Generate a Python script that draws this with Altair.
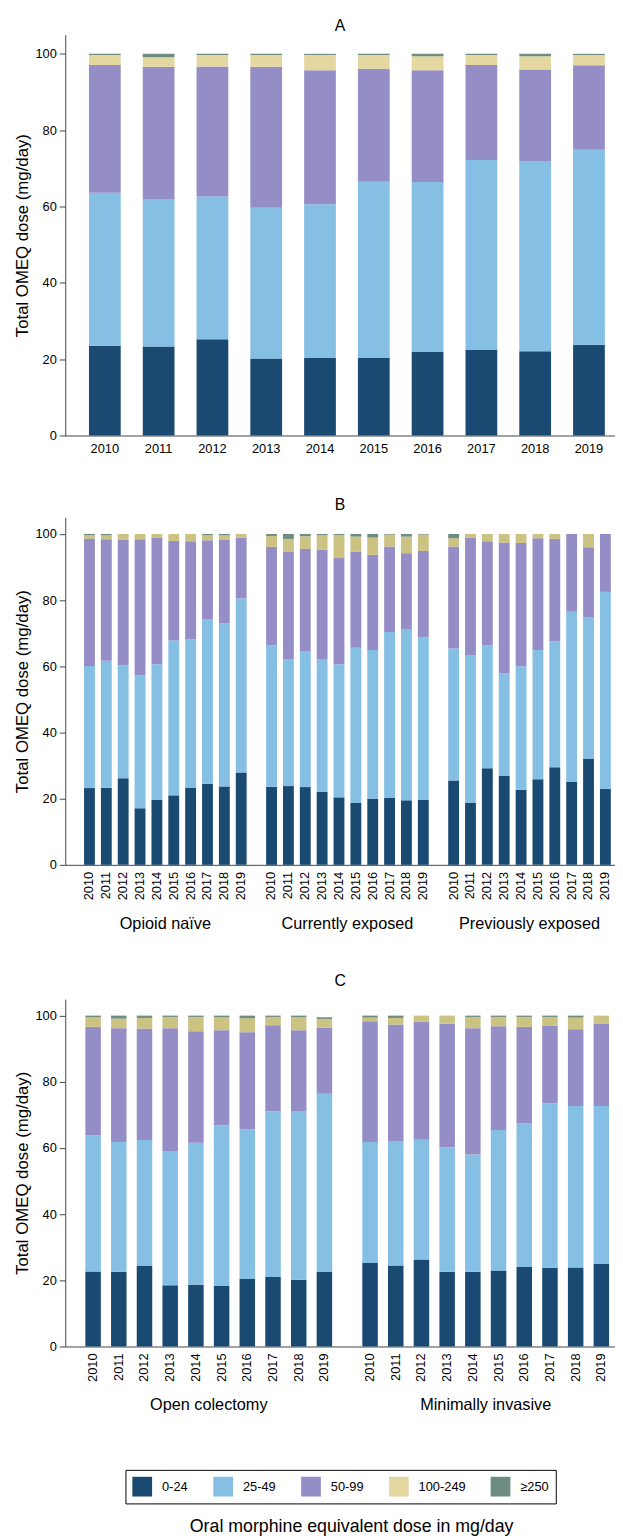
import altair as alt
import pandas as pd

FONT = "Liberation Sans"

years = [2010, 2011, 2012, 2013, 2014, 2015, 2016, 2017, 2018, 2019]
categories = ["0-24", "25-49", "50-99", "100-249", "≥250"]
colors = ["#1a4a72", "#85bfe4", "#958dc5", "#e4d8a0", "#6c8d7f"]
# the 100-249 band is drawn in a darker khaki in panels B and C
tan_bc_key = "100-249 (B, C)"
tan_bc_color = "#ccc282"

groups_b = ["Opioid naïve", "Currently exposed", "Previously exposed"]
groups_c = ["Open colectomy", "Minimally invasive"]

# each list: [0-24, 25-49, 50-99, 100-249, >=250] shares (%) for 2010..2019
overall = [
    [23.5, 23.3, 25.2, 20.2, 20.3, 20.3, 21.9, 22.4, 22.1, 23.8],
    [40.1, 38.7, 37.4, 39.5, 40.3, 46.2, 44.5, 49.8, 49.8, 51.1],
    [33.5, 34.6, 34.1, 36.9, 35.1, 29.6, 29.3, 24.9, 24.0, 22.1],
    [2.6, 2.5, 3.0, 3.1, 4.0, 3.6, 3.7, 2.6, 3.5, 2.7],
    [0.3, 0.9, 0.3, 0.3, 0.3, 0.3, 0.6, 0.3, 0.6, 0.3],
]
opioid_naive = [
    [23.2, 23.3, 26.2, 17.1, 19.6, 21.0, 23.2, 24.5, 23.7, 27.9],
    [36.9, 38.4, 34.1, 40.1, 41.0, 46.8, 44.9, 49.6, 49.2, 52.6],
    [38.5, 36.7, 37.9, 41.2, 38.3, 30.1, 29.7, 24.0, 25.3, 18.4],
    [1.0, 1.2, 1.8, 1.6, 1.1, 2.1, 2.2, 1.5, 1.4, 1.1],
    [0.4, 0.4, 0.0, 0.0, 0.0, 0.0, 0.0, 0.4, 0.4, 0.0],
]
currently_exposed = [
    [23.6, 23.8, 23.5, 22.0, 20.4, 18.7, 20.0, 20.2, 19.5, 19.7],
    [42.8, 38.4, 41.0, 40.2, 40.2, 46.9, 44.9, 50.2, 51.6, 49.1],
    [29.7, 32.5, 31.0, 33.1, 32.1, 29.0, 28.8, 25.8, 23.1, 26.1],
    [3.3, 3.8, 3.8, 4.4, 7.0, 4.6, 5.2, 3.6, 5.0, 4.9],
    [0.6, 1.5, 0.7, 0.3, 0.3, 0.8, 1.1, 0.2, 0.8, 0.2],
]
previously_exposed = [
    [25.5, 18.8, 29.2, 26.9, 22.7, 25.9, 29.5, 25.0, 32.0, 23.0],
    [39.9, 44.5, 37.1, 30.9, 37.3, 39.0, 38.1, 51.5, 42.7, 59.5],
    [30.8, 35.6, 31.5, 39.6, 37.3, 33.8, 30.9, 23.5, 21.3, 17.5],
    [2.5, 1.1, 2.2, 2.6, 2.7, 1.3, 1.5, 0.0, 4.0, 0.0],
    [1.3, 0.0, 0.0, 0.0, 0.0, 0.0, 0.0, 0.0, 0.0, 0.0],
]
open_colectomy = [
    [22.7, 22.6, 24.3, 18.5, 18.7, 18.3, 20.4, 21.0, 20.2, 22.5],
    [41.1, 39.2, 38.1, 40.6, 42.9, 48.6, 45.2, 50.1, 51.0, 53.9],
    [32.8, 34.4, 33.7, 37.1, 33.7, 28.7, 29.4, 26.0, 24.4, 20.0],
    [2.9, 2.9, 3.2, 3.4, 4.3, 3.9, 4.2, 2.5, 3.9, 2.6],
    [0.5, 0.9, 0.7, 0.4, 0.4, 0.5, 0.8, 0.4, 0.5, 0.5],
]
minimally_invasive = [
    [25.2, 24.5, 26.3, 22.6, 22.6, 23.0, 24.0, 23.8, 23.9, 24.9],
    [36.6, 37.6, 36.2, 37.6, 35.4, 42.4, 43.4, 49.7, 48.8, 47.8],
    [36.5, 35.2, 35.6, 37.3, 38.2, 31.4, 29.2, 23.5, 23.2, 24.9],
    [1.1, 2.0, 1.9, 2.5, 3.4, 2.8, 3.0, 2.6, 3.5, 2.4],
    [0.6, 0.7, 0.0, 0.0, 0.4, 0.4, 0.4, 0.4, 0.6, 0.0],
]


def rows(group, values, dark_tan):
    out = []
    for ci, cat in enumerate(categories):
        key = tan_bc_key if (dark_tan and cat == "100-249") else cat
        for yi, yr in enumerate(years):
            out.append({"group": group, "year": str(yr), "cat": key,
                        "idx": ci, "value": values[ci][yi]})
    return out


df_a = pd.DataFrame(rows("All", overall, False))
df_b = pd.DataFrame(rows(groups_b[0], opioid_naive, True)
                    + rows(groups_b[1], currently_exposed, True)
                    + rows(groups_b[2], previously_exposed, True))
df_c = pd.DataFrame(rows(groups_c[0], open_colectomy, True)
                    + rows(groups_c[1], minimally_invasive, True))

W = 557
HA = 406
HB = 352
HC = 352

color_enc = alt.Color(
    "cat:N",
    scale=alt.Scale(domain=categories + [tan_bc_key], range=colors + [tan_bc_color]),
    legend=alt.Legend(
        orient="none", legendX=61, legendY=1454, direction="horizontal",
        title=None, values=categories, symbolType="square", symbolSize=400,
        symbolStrokeWidth=0, symbolOpacity=1, labelFontSize=13, labelFont=FONT,
        labelColor="black", labelOffset=10, columnPadding=25, padding=7,
        strokeColor="black",
    ),
)

y_axis = alt.Axis(
    values=[0, 20, 40, 60, 80, 100], title="Total OMEQ dose (mg/day)",
    grid=False, tickSize=6, labelPadding=3, titlePadding=4,
    labelFontSize=13, titleFontSize=17, titleFontWeight="normal",
    domainColor="#444", tickColor="#444", labelColor="black", titleColor="black",
)


def y_enc():
    return alt.Y("value:Q", stack="zero", scale=alt.Scale(domain=[0, 105], nice=False),
                 axis=y_axis)


order_enc = alt.Order("idx:Q", sort="ascending")


def panel_title(t, offset):
    return alt.TitleParams(t, fontSize=16, fontWeight="normal", offset=offset,
                           anchor="middle", font=FONT, color="black")


chart_a = alt.Chart(df_a).mark_bar().encode(
    x=alt.X("year:N", scale=alt.Scale(paddingInner=0.41, paddingOuter=0.315, align=0.7),
            axis=alt.Axis(title=None, labelAngle=0, ticks=False, tickSize=0,
                          labelPadding=7, labelFontSize=13, labelColor="black",
                          domainColor="#444")),
    y=y_enc(),
    color=color_enc,
    order=order_enc,
).properties(width=W, height=HA, title=panel_title("A", 1))


def grouped_panel(df, groups, h, title, toff, outer, align, inner_pad, band_pad):
    xs = alt.X("group:N", sort=groups,
               scale=alt.Scale(paddingInner=band_pad, paddingOuter=outer, align=align),
               axis=alt.Axis(title=None, labelAngle=0, ticks=False, tickSize=0,
                             labelPadding=51, labelFontSize=16.5, labelColor="black",
                             domainColor="#444"))
    xo = alt.XOffset("year:N", scale=alt.Scale(paddingInner=inner_pad,
                                                 paddingOuter=inner_pad / 2))
    bars = alt.Chart(df).mark_bar().encode(
        x=xs, xOffset=xo, y=y_enc(), color=color_enc, order=order_enc,
    )
    labels = alt.Chart(df).transform_filter(alt.datum.idx == 0).mark_text(
        angle=270, align="right", baseline="middle", fontSize=13, font=FONT,
        color="black",
    ).encode(
        x=alt.X("group:N", sort=groups),
        xOffset=alt.XOffset("year:N"),
        y=alt.value(h + 7),
        text="year:N",
    )
    return alt.layer(bars, labels).properties(width=W, height=h,
                                              title=panel_title(title, toff))


chart_b = grouped_panel(df_b, groups_b, HB, "B", 5, 0.0466, 0.93, 0.356, 0.074)
chart_c = grouped_panel(df_c, groups_c, HC, "C", 10, 0.0285, 0.95, 0.397, 0.072)

chart = alt.vconcat(chart_a, chart_b, chart_c, spacing=42).resolve_scale(
    xOffset="independent"
).properties(
    padding={"left": 5, "top": 0, "right": 0, "bottom": 0},
    title=alt.TitleParams("Oral morphine equivalent dose in mg/day", orient="bottom",
                          anchor="middle", fontSize=18, fontWeight="normal",
                          font=FONT, color="black", offset=14, dx=38),
).configure(font=FONT).configure_view(strokeWidth=0)

chart.save("out.html", embed_options={"renderer": "svg", "actions": False})
